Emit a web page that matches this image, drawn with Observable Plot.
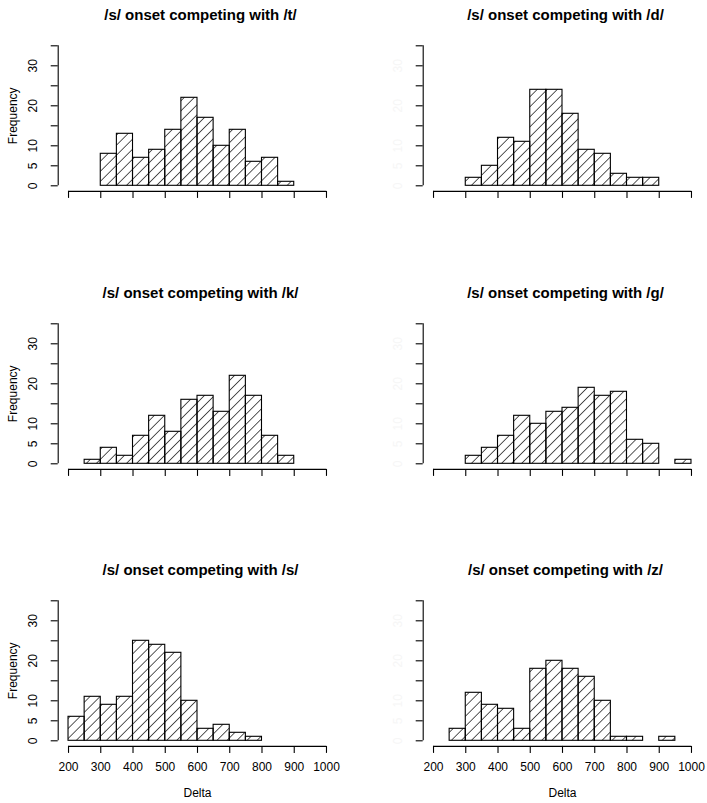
<!DOCTYPE html>
<html>
<head>
<meta charset="utf-8">
<script src="https://cdn.jsdelivr.net/npm/d3@7"></script>
<script src="https://cdn.jsdelivr.net/npm/@observablehq/plot@0.6"></script>
<style>
html, body { margin: 0; padding: 0; background: #fff; overflow: hidden; }
#chart { position: relative; width: 707px; height: 803px; background: #fff; overflow: hidden;
  font-family: "Liberation Sans", Arial, Helvetica, sans-serif; }
#chart svg.panel { position: absolute; }
</style>
</head>
<body>
<svg width="0" height="0" style="position:absolute;left:0;top:0">
  <defs>
    <pattern id="hatch" patternUnits="userSpaceOnUse" width="7.1" height="7.1" patternTransform="rotate(45)">
      <line x1="0" y1="-1" x2="0" y2="8.1" stroke="#000" stroke-width="1.3"/>
    </pattern>
  </defs>
</svg>
<div id="chart"></div>
<script>
// ---- data ----
const titles = [
  "/s/ onset competing with /t/",
  "/s/ onset competing with /d/",
  "/s/ onset competing with /k/",
  "/s/ onset competing with /g/",
  "/s/ onset competing with /s/",
  "/s/ onset competing with /z/"
];
const binWidth = 50;
const binStarts = [300, 300, 250, 300, 200, 250];
const countsT = [8, 13, 7, 9, 14, 22, 17, 10, 14, 6, 7, 1];
const countsD = [2, 5, 12, 11, 24, 24, 18, 9, 8, 3, 2, 2];
const countsK = [1, 4, 2, 7, 12, 8, 16, 17, 13, 22, 17, 7, 2];
const countsG = [2, 4, 7, 12, 10, 13, 14, 19, 17, 18, 6, 5, 0, 1];
const countsS = [6, 11, 9, 11, 25, 24, 22, 10, 3, 4, 2, 1];
const countsZ = [3, 12, 9, 8, 3, 18, 20, 18, 16, 10, 1, 1, 0, 1];
const allCounts = [countsT, countsD, countsK, countsG, countsS, countsZ];
const xTicks = [200, 300, 400, 500, 600, 700, 800, 900, 1000];
const yTicks = [0, 5, 10, 15, 20, 25, 30, 35];
const yLabels = [0, 5, 10, 20, 30];
const xTitle = "Delta";
const yTitle = "Frequency";

// ---- layout ----
const FONT = '"Liberation Sans", Arial, Helvetica, sans-serif';
const xExt = d3.extent(xTicks), yExt = d3.extent(yTicks);
const xPad = (xExt[1] - xExt[0]) * 0.04, yPad = (yExt[1] - yExt[0]) * 0.04;
const xDomain = [xExt[0] - xPad, xExt[1] + xPad];
const yDomain = [yExt[0] - yPad, yExt[1] + yPad];
const colLeft = [0, 365];
const colWidth = [353, 342];
const rowTop = [0, 277.7, 555.4];
const mLeft = 57.7, plotW = 278.6, mTop = 39.7, plotH = 151.2, H = 278;

const chart = document.getElementById("chart");

allCounts.forEach((counts, i) => {
  const col = i % 2, row = Math.floor(i / 2);
  const bins = counts.map((c, j) => ({x0: binStarts[i] + j * binWidth, x1: binStarts[i] + (j + 1) * binWidth, count: c}));
  const W = colWidth[col];
  const bottomRow = row === 2;
  const leftCol = col === 0;
  const marks = [
    Plot.rectY(bins, {x1: "x0", x2: "x1", y: "count", fill: "url(#hatch)", stroke: "#000", strokeWidth: 1.1}),
    // axis lines
    Plot.ruleY([yDomain[0]], {x1: xExt[0], x2: xExt[1], stroke: "#000", strokeWidth: 1.1}),
    Plot.ruleX([xDomain[0]], {y1: yExt[0], y2: yExt[1], stroke: "#000", strokeWidth: 1.1}),
    Plot.axisX(xTicks, {anchor: "bottom", tickSize: 7, tickPadding: 9, fontSize: 12, label: null,
      tickFormat: d => String(d), text: bottomRow ? undefined : null, strokeWidth: 1.1}),
    Plot.axisY(yTicks, {anchor: "left", tickSize: 7, label: null, text: null, strokeWidth: 1.1}),
    Plot.text(yLabels, {y: d => d, text: d => String(d), frameAnchor: "left", textAnchor: "middle",
      lineAnchor: "middle", rotate: -90, dx: -24.7, fontSize: 12, fill: leftCol ? "#000" : "#f6f6f6"}),
    Plot.text([titles[i]], {frameAnchor: "top", dy: -24.7, dx: 3, lineAnchor: "middle", fontSize: 15,
      fontWeight: "bold", fill: "#000"})
  ];
  if (leftCol) {
    marks.push(Plot.text([yTitle], {frameAnchor: "left", textAnchor: "middle", lineAnchor: "middle",
      rotate: -90, dx: -45.2, fontSize: 12, fill: "#000"}));
  }
  if (bottomRow) {
    marks.push(Plot.text([xTitle], {frameAnchor: "bottom", lineAnchor: "middle", dy: 46.7, fontSize: 12, fill: "#000"}));
  }
  const svg = Plot.plot({
    width: W,
    height: H,
    marginLeft: mLeft,
    marginRight: W - mLeft - plotW,
    marginTop: mTop,
    marginBottom: H - mTop - plotH,
    x: {domain: xDomain},
    y: {domain: yDomain},
    style: {fontFamily: FONT, fontSize: "12px", background: "transparent", color: "#000", overflow: "visible"},
    marks
  });
  svg.classList.add("panel");
  svg.style.left = colLeft[col] + "px";
  svg.style.top = rowTop[row] + "px";
  chart.appendChild(svg);
});
</script>
</body>
</html>
